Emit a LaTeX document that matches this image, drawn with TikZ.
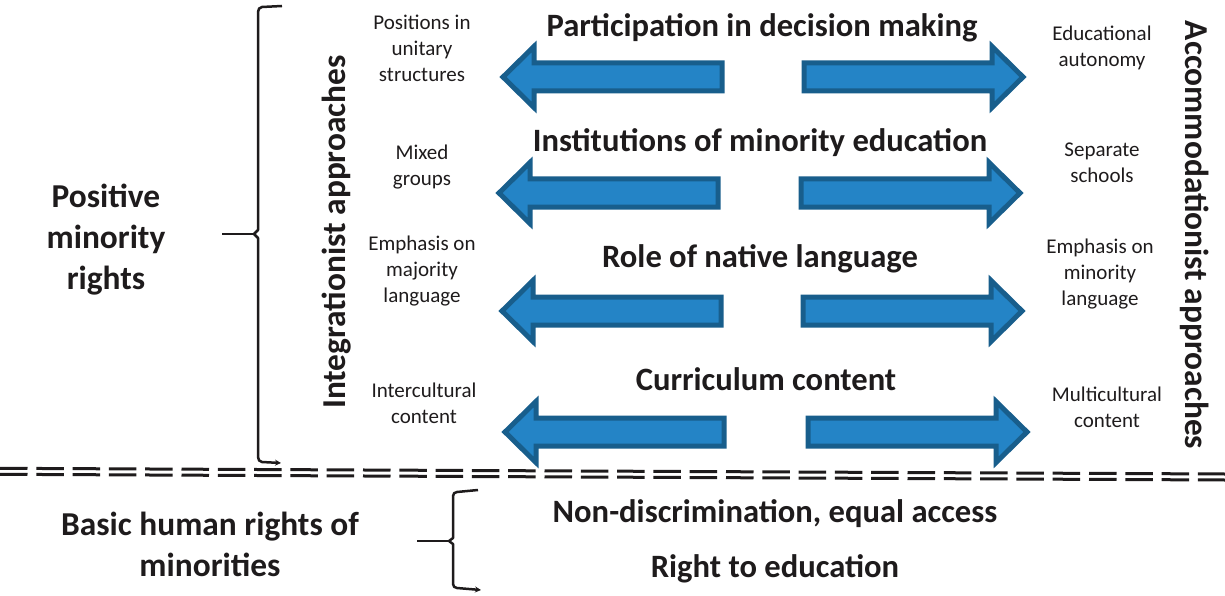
\documentclass[tikz,border=0pt]{standalone}
\usepackage{fontspec}
\setmainfont{Carlito}
\usetikzlibrary{positioning,arrows.meta}

\definecolor{arrowfill}{RGB}{36,132,198}
\definecolor{arrowline}{RGB}{24,94,140}
\definecolor{ink}{RGB}{30,27,28}

\tikzset{
  heading/.style={font=\bfseries\fontsize{32.6}{38}\selectfont, text=ink, inner sep=0, anchor=base},
  sidelabel/.style={font=\fontsize{21}{26}\selectfont, text=ink, align=center, inner sep=0},
  biglabel/.style={font=\bfseries\fontsize{33.4}{41}\selectfont, text=ink, align=center, inner sep=0},
  brace/.style={draw=ink, line width=2.5pt, line join=round},
  blockarrow/.style={draw=arrowline, fill=arrowfill, line width=5pt},
  dashline/.style={draw=ink, line width=3pt, dash pattern=on 27.5pt off 8.8pt},
  leftarrow/.pic={
    \path[blockarrow] (0,0) -- (31,-30.5) -- (31,-14) -- (219,-14)
      -- (219,14) -- (31,14) -- (31,30.5) -- cycle;
  },
}

\begin{document}
\begin{tikzpicture}[x=1pt, y=-1pt]

    \useasboundingbox (0,0) rectangle (1225,596);

    % headings
    \node[heading] (decision) at (762,37) {Participation in decision making};
    \node[heading] (institutions) at (760,152) {Institutions of minority education};
    \node[heading] (language) at (760,267) {Role of native language};
    \node[heading] (curriculum) at (766,390) {Curriculum content};
    \node[heading] (nondiscr) at (775,522) {Non-discrimination, equal access};
    \node[heading] (education) at (775,577) {Right to education};

    % block arrows
    \foreach \y/\ltip/\rtip in {77/503/1023, 193/499/1020, 311/502/1022, 432/505/1027}
    {
        \pic at (\ltip,\y) {leftarrow};
        \pic[xscale=-1] at (\rtip,\y) {leftarrow};
    }

    % integrationist side
    \node[sidelabel] (positions) at (422,48) {Positions in\\unitary\\structures};
    \node[sidelabel] (mixed) at (422,167) {Mixed\\groups};
    \node[sidelabel] (majority) at (422,271) {Emphasis on\\majority\\language};
    \node[sidelabel] (intercult) at (424,403) {Intercultural\\content};

    % accommodationist side
    \node[sidelabel] (autonomy) at (1102,48) {Educational\\autonomy};
    \node[sidelabel] (separate) at (1102,163) {Separate\\schools};
    \node[sidelabel] (minority) at (1100,274) {Emphasis on\\minority\\language};
    \node[sidelabel] (multicult) at (1107,407) {Multicultural\\content};

    \node[biglabel, rotate=90] (integr) at (337,232) {Integrationist approaches};
    \node[biglabel, rotate=-90] (accomm) at (1195,235) {Accommodationist approaches};

    \node[biglabel] (positive) at (106,240) {Positive\\minority\\rights};
    \node[biglabel] (basic) at (210,544) {Basic human rights of\\minorities};

    % braces
    \draw[brace, -{Stealth[length=6pt,width=6pt]}] (282,6) -- (262,7)
        to[out=180,in=90] (258,12) -- (258,230) -- (254,234) -- (258,238)
        -- (258,457) to[out=-90,in=180] (262,462) -- (281,463);
    \draw[brace] (222,234) -- (254,234);

    \draw[brace, -{Stealth[length=6pt,width=6pt]}] (478,490) -- (457,492)
        to[out=180,in=90] (453,496) -- (453,538) -- (449,541) -- (453,544)
        -- (453,584) to[out=-90,in=180] (457,588) -- (481,590);
    \draw[brace] (417,541) -- (449,541);

    % separating line
    \draw[dashline] (0,468.3) -- (1225,474);
    \draw[dashline] (0,474.3) -- (1225,480);

\end{tikzpicture}
\end{document}
